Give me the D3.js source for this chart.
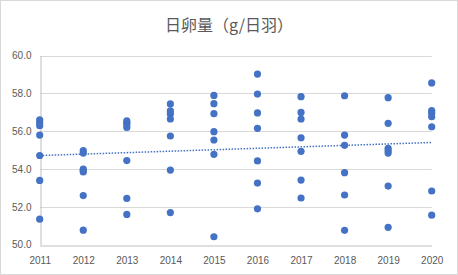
<!DOCTYPE html>
<html><head><meta charset="utf-8">
<script src="https://cdn.jsdelivr.net/npm/d3@7"></script>
<style>body{margin:0;background:#fff}svg{display:block}</style>
</head><body>
<script>
const title = "日卵量（g/日羽）";
const years = [2011,2012,2013,2014,2015,2016,2017,2018,2019,2020];
const v2011 = [56.60,56.45,56.30,55.80,54.72,53.40,51.35];
const v2012 = [54.98,54.85,54.00,53.92,53.85,52.60,50.77];
const v2013 = [56.55,56.45,56.35,56.20,54.45,52.45,51.60];
const v2014 = [57.45,57.08,56.92,56.65,55.75,53.95,51.70];
const v2015 = [57.90,57.46,56.93,55.98,55.54,54.78,50.42];
const v2016 = [59.03,57.97,56.97,56.16,54.43,53.26,51.90];
const v2017 = [57.83,57.00,56.65,55.66,54.94,53.42,52.47];
const v2018 = [57.88,55.80,55.26,53.81,52.63,50.76];
const v2019 = [57.78,56.42,55.10,54.97,54.85,53.10,50.92];
const v2020 = [58.56,57.09,56.95,56.77,56.24,52.84,51.56];
const yTicks = [50,52,54,56,58,60];

const series = [v2011,v2012,v2013,v2014,v2015,v2016,v2017,v2018,v2019,v2020];
const points = [];
series.forEach((arr,i)=>arr.forEach(v=>points.push({x:years[i],y:v})));

const W=458,H=275;
const svg=d3.select("body").append("svg").attr("width",W).attr("height",H);
svg.append("rect").attr("x",0.5).attr("y",0.5).attr("width",W-1).attr("height",H-1)
  .attr("fill","#fff").attr("stroke","#d9d9d9");

const x=d3.scaleLinear().domain([2011,2020]).range([39.7,431.7]);
const y=d3.scaleLinear().domain([50,60]).range([244.7,55.7]);

svg.append("text").attr("x",229).attr("y",31).attr("text-anchor","middle")
  .attr("font-family","'Noto Sans CJK JP','Noto Sans CJK SC',sans-serif").attr("font-size",16)
  .attr("fill","#595959").text(title);

// gridlines
svg.append("g").selectAll("line").data(yTicks.filter(t=>t>50)).join("line")
  .attr("x1",x(2011)).attr("x2",x(2020))
  .attr("y1",d=>Math.round(y(d))+0.5).attr("y2",d=>Math.round(y(d))+0.5)
  .attr("stroke","#d9d9d9").attr("stroke-width",1);

// axes
const yAxis=d3.axisLeft(y).tickValues(yTicks).tickFormat(d3.format(".1f")).tickSize(0).tickPadding(9);
const gy=svg.append("g").attr("transform",`translate(${Math.round(x(2011))+0.5},0)`).call(yAxis);
gy.select(".domain").attr("stroke","#bfbfbf");
gy.selectAll("text").attr("font-family","'Liberation Sans',Arial,sans-serif").attr("font-size",10).attr("fill","#595959");

const xAxis=d3.axisBottom(x).tickValues(years).tickFormat(d3.format("d")).tickSize(0).tickPadding(11);
const gx=svg.append("g").attr("transform",`translate(0,${Math.round(y(50))+0.5})`).call(xAxis);
gx.select(".domain").attr("stroke","#bfbfbf");
gx.selectAll("text").attr("font-family","'Liberation Sans',Arial,sans-serif").attr("font-size",10).attr("fill","#595959");

// points
svg.append("g").selectAll("circle").data(points).join("circle")
  .attr("cx",d=>x(d.x)).attr("cy",d=>y(d.y)).attr("r",3.6).attr("fill","#4472c4");

// linear trend line (least squares)
const mx=d3.mean(points,d=>d.x), my=d3.mean(points,d=>d.y);
const slope=d3.sum(points,d=>(d.x-mx)*(d.y-my))/d3.sum(points,d=>(d.x-mx)**2);
const trend=years.filter((_,i)=>i===0||i===years.length-1).map(t=>({x:t,y:my+slope*(t-mx)}));
svg.append("path").datum(trend)
  .attr("d",d3.line().x(d=>x(d.x)).y(d=>y(d.y)))
  .attr("fill","none").attr("stroke","#4472c4").attr("stroke-width",1.5).attr("stroke-dasharray","1.5,1.5");
</script>
</body></html>
